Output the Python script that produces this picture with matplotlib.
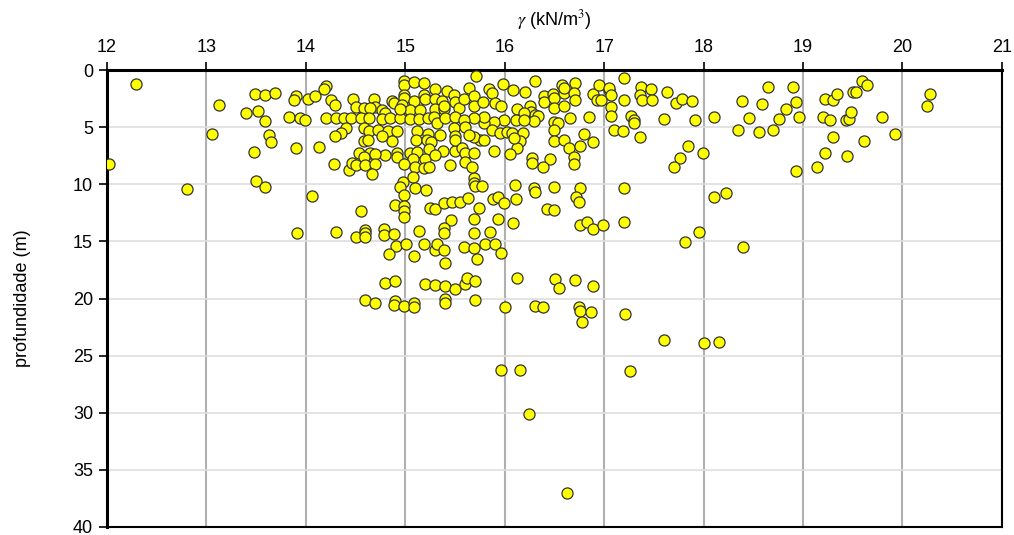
#!/usr/bin/env python3
import numpy as np
import matplotlib as mpl
mpl.use('Agg')
import matplotlib.pyplot as plt

plt.rc('font', family='Liberation Sans')
plt.rc('mathtext', fontset='stix')

# ========================================================================
# Data: unit weight (kN/m3) and depth (m)
# ========================================================================
gamma = [
    12.29, 13.13, 13.49, 13.59, 13.69, 13.90, 13.88, 14.02, 13.40, 13.52,
    13.59, 13.83, 13.94, 13.99, 13.06, 13.63, 13.65, 13.48, 13.90, 12.02,
    12.80, 13.50, 13.59, 14.06, 13.91,
    14.20, 14.18, 14.09, 14.25, 14.29, 14.47, 14.50, 14.59, 14.69, 14.70,
    14.87, 14.89, 14.99, 14.99, 15.09, 15.19, 15.30, 15.42, 14.99, 14.99,
    15.09, 15.19, 15.20, 15.30, 15.37, 15.49, 15.50, 14.97, 15.05, 15.15,
    15.30, 15.39, 15.54, 14.65, 14.77, 14.80, 14.20, 14.30, 14.38, 14.45,
    14.55, 14.64, 14.77, 14.85, 14.95, 15.05, 15.14, 15.23, 15.29, 15.32,
    15.40, 15.50, 14.58, 14.64, 14.73, 14.83, 14.92, 15.12, 15.23, 15.35,
    15.49, 15.50, 14.40, 14.35, 14.29, 14.58, 14.63, 14.77, 14.87, 15.11,
    15.22, 15.26, 14.13, 14.53, 14.65, 14.80, 14.92, 15.05, 15.12, 15.24,
    15.38, 15.50, 14.58, 14.70, 14.92, 15.08, 15.20, 15.30, 14.28, 14.43,
    14.46, 14.50, 14.60, 14.70, 14.67, 14.99, 15.10, 15.19, 15.24, 15.45,
    14.55, 15.39, 14.95,
    14.98, 15.08, 15.10, 15.21, 14.95, 14.99, 14.90, 14.99, 14.99, 14.99,
    15.25, 15.30, 15.39, 15.47, 15.55, 15.63, 15.74, 15.88, 15.93, 15.99,
    16.11, 16.10, 16.29, 16.30, 16.43, 15.69, 15.69, 15.70, 15.77,
    16.50, 16.76, 16.72, 16.75, 16.50, 17.20,
    15.46, 15.39, 15.39, 15.69, 15.69, 15.85, 15.93, 16.08, 14.30, 14.50,
    14.60, 14.60, 14.60, 14.79, 14.79, 14.89, 15.14, 14.91, 15.01, 14.84,
    15.09, 15.19, 15.30, 15.32, 15.39, 15.40, 15.59, 15.69, 15.80, 15.90,
    15.96, 15.72, 16.12,
    14.80, 14.90, 15.20, 15.30, 15.40, 15.50, 15.60, 15.62, 15.70, 16.51,
    16.55, 16.71, 16.89, 14.60, 14.70, 14.90, 14.89, 14.99, 15.09, 15.09,
    15.40, 15.40, 15.70, 16.00, 16.30, 16.39, 16.75, 16.76, 16.87, 16.78,
    17.21, 17.60, 18.00, 18.16, 15.96, 16.15, 17.26, 16.24, 16.63,
    16.76, 16.83, 16.89, 16.99, 17.20, 18.11, 18.23, 17.95, 17.81, 18.40,
    15.71, 15.64, 15.84, 15.87, 15.98, 16.08, 16.20, 16.30, 16.40, 16.49,
    16.58, 16.60, 16.71, 16.70, 16.71, 16.89, 16.93, 16.95, 15.59, 15.69,
    15.69, 15.78, 15.90, 15.96, 16.40, 16.50, 16.50, 16.60, 16.25, 16.12,
    16.26, 16.30, 16.34, 16.19, 16.11, 15.99, 15.89, 15.79, 15.79, 15.69,
    15.59, 15.60, 15.87, 15.95, 16.02, 16.07, 16.18, 16.15, 16.12, 16.05,
    15.89, 15.75, 15.69, 15.64, 15.79, 15.50, 15.57, 15.60, 15.69, 15.60,
    15.67, 16.50, 16.54, 16.66, 16.85, 16.50, 16.50, 16.60, 16.65, 16.76,
    16.80, 16.89, 16.70, 16.70, 16.46, 16.39, 16.27, 16.27,
    16.60, 17.05, 16.29, 16.19, 16.09,
    17.20, 17.05, 17.07, 17.07, 17.07, 16.97, 17.20, 17.37, 17.36, 17.38,
    17.47, 17.48, 17.63, 17.72, 17.78, 17.88, 17.27, 17.30, 17.30, 17.60,
    17.91, 17.10, 17.19, 17.36, 17.84, 17.76, 17.70, 17.99, 18.11, 18.39,
    18.65, 18.59, 18.46, 18.35, 18.56, 18.70, 18.76, 18.83, 18.90, 18.93,
    18.96, 18.93, 19.14,
    19.22, 19.30, 19.44, 19.61, 19.93, 19.20, 19.27, 19.43, 19.46, 19.48,
    19.79, 19.22, 19.30, 19.34, 19.50, 19.53, 19.59, 19.64, 20.28, 20.25,
]
depth = [
    1.20, 3.06, 2.07, 2.16, 1.98, 2.24, 2.60, 2.56, 3.73, 3.62,
    4.46, 4.11, 4.20, 4.35, 5.60, 5.66, 6.27, 7.17, 6.85, 8.25,
    10.44, 9.74, 10.24, 11.00, 14.26,
    1.40, 1.69, 2.24, 2.62, 3.06, 2.56, 3.20, 3.30, 2.54, 3.20,
    2.68, 2.92, 0.93, 1.31, 1.08, 1.17, 1.69, 1.84, 2.19, 2.48,
    2.68, 2.19, 2.56, 2.56, 2.68, 2.19, 2.77, 3.06, 3.50, 3.50,
    3.44, 3.44, 3.30, 3.35, 3.50, 3.73, 4.17, 4.17, 4.17, 4.17,
    4.17, 4.22, 4.31, 4.22, 4.17, 4.31, 4.31, 4.17, 4.08, 4.66,
    4.22, 4.08, 5.10, 5.34, 5.25, 5.34, 5.34, 5.34, 5.60, 5.69,
    5.10, 5.77, 5.10, 5.54, 5.77, 6.21, 6.12, 5.77, 6.21, 6.12,
    6.12, 6.27, 6.76, 7.23, 7.23, 7.43, 7.23, 7.23, 7.14, 6.94,
    7.06, 7.09, 7.58, 7.38, 7.58, 7.81, 7.81, 7.43, 8.22, 8.75,
    8.11, 8.31, 8.31, 8.22, 9.10, 8.22, 8.51, 8.60, 8.51, 8.31,
    12.37, 3.15, 3.44,
    9.77, 9.39, 10.35, 10.50, 10.20, 10.94, 11.81, 11.90, 12.30, 12.83,
    12.10, 12.19, 11.67, 11.58, 11.58, 11.23, 12.10, 11.29, 11.08, 11.67,
    11.29, 10.06, 10.35, 10.64, 12.19, 9.48, 9.85, 10.15, 10.15,
    10.26, 10.29, 11.08, 11.58, 12.25, 10.29,
    13.12, 13.85, 14.29, 13.06, 14.23, 14.15, 13.06, 13.36, 14.15, 14.64,
    14.00, 14.29, 14.58, 13.94, 14.44, 14.35, 14.09, 15.40, 15.22, 16.13,
    16.25, 15.22, 15.75, 15.22, 15.75, 16.92, 15.45, 15.54, 15.22, 15.22,
    16.04, 16.56, 18.22,
    18.60, 18.50, 18.72, 18.81, 18.90, 19.16, 18.72, 18.22, 18.43, 18.26,
    19.10, 18.37, 18.90, 20.12, 20.35, 20.18, 20.56, 20.67, 20.41, 20.76,
    20.06, 20.41, 20.09, 20.76, 20.65, 20.70, 20.76, 21.08, 21.20, 22.08,
    21.38, 23.60, 23.88, 23.77, 26.22, 26.22, 26.33, 30.07, 37.00,
    13.56, 13.27, 13.91, 13.56, 13.27, 11.08, 10.73, 14.20, 15.07, 15.45,
    0.50, 1.60, 1.66, 2.04, 1.25, 1.75, 1.95, 0.96, 2.24, 2.13,
    1.31, 2.04, 1.17, 2.04, 2.62, 2.13, 2.62, 1.31, 2.56, 2.24,
    3.12, 2.77, 2.92, 3.12, 2.77, 2.42, 3.30, 3.12, 3.12, 3.41,
    3.65, 3.94, 4.02, 3.79, 4.37, 4.37, 4.52, 4.66, 4.08, 4.22,
    4.37, 4.96, 5.25, 5.48, 5.39, 5.54, 5.48, 6.18, 6.79, 7.35,
    7.06, 6.12, 5.83, 5.69, 6.12, 6.12, 6.85, 7.23, 7.29, 8.02,
    8.45, 4.52, 4.66, 4.22, 4.08, 5.25, 6.21, 6.12, 6.85, 6.65,
    5.60, 6.27, 7.64, 8.22, 7.78, 8.45, 7.66, 8.11,
    1.60, 1.75, 4.43, 4.37, 5.97,
    0.73, 1.60, 2.19, 3.20, 4.02, 2.62, 2.62, 1.46, 2.19, 2.62,
    1.69, 2.62, 1.95, 2.85, 2.56, 2.68, 4.02, 4.37, 4.66, 4.31,
    4.37, 5.25, 5.31, 5.83, 6.65, 7.73, 8.51, 7.29, 4.14, 2.71,
    1.46, 2.98, 4.17, 5.25, 5.45, 5.25, 4.28, 3.44, 1.46, 2.83,
    4.08, 8.80, 8.51,
    7.29, 5.83, 7.50, 6.18, 5.57, 4.08, 4.37, 4.37, 4.31, 3.65,
    4.08, 2.56, 2.62, 2.13, 1.95, 1.95, 0.93, 1.31, 2.13, 3.15,
]

xticks = np.arange(12, 22, 1)
yticks = np.arange(0, 45, 5)

# ========================================================================
# Plot
# ========================================================================
fig = plt.figure(figsize=(10.14, 5.35), dpi=100)
ax = fig.add_axes([0.1055, 0.015, 0.8825, 0.854])

ax.scatter(gamma, depth, s=64, c='#FFFF00', edgecolors='#333333',
           linewidths=0.9, zorder=3)

ax.set_xlim(12, 21)
ax.set_ylim(40, 0)
ax.set_xticks(xticks)
ax.set_yticks(yticks)

for x in xticks:
    ax.axvline(x, color='#b0b0b0', lw=1.5, zorder=1)
for y in yticks:
    ax.axhline(y, color='#dedede', lw=1.2, zorder=1)

ax.xaxis.tick_top()
ax.xaxis.set_label_position('top')
ax.tick_params(axis='x', direction='out', length=6, width=1.2,
               labelsize=13, pad=4)
ax.tick_params(axis='y', direction='out', length=6, width=1.2,
               labelsize=13, pad=4)

ax.set_xlabel(r'$\gamma$ (kN/m$^3$)', fontsize=13, labelpad=10)
ax.set_ylabel('profundidade (m)', fontsize=13, labelpad=30)

for side in ['top', 'left']:
    ax.spines[side].set_linewidth(2.2)
for side in ['bottom', 'right']:
    ax.spines[side].set_linewidth(1.5)

plt.savefig('out.png', format='png', dpi=100)
